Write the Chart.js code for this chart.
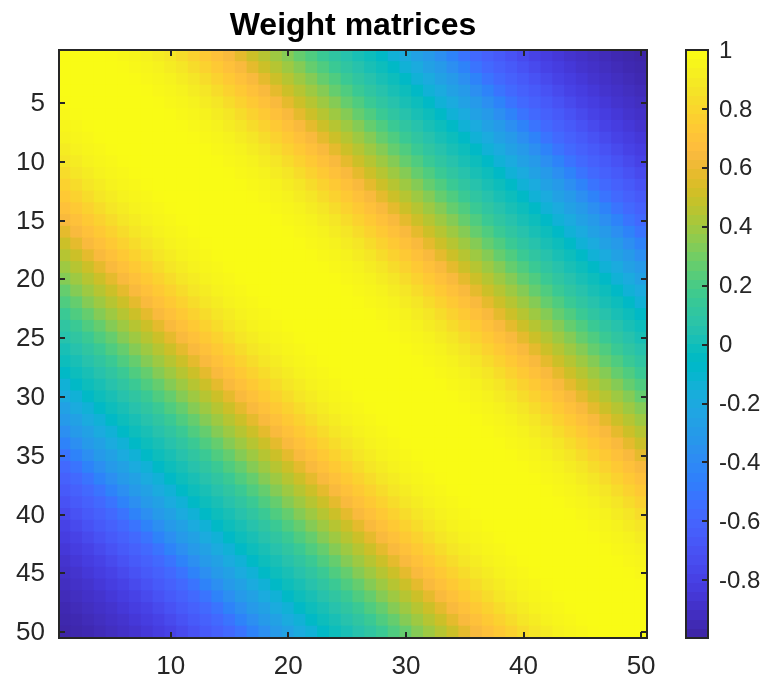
<!DOCTYPE html>
<html>
<head>
<meta charset="utf-8">
<style>
html,body{margin:0;padding:0;background:#fff;width:764px;height:679px;overflow:hidden}
#mainBox{position:absolute;left:0;top:0;width:706px;height:679px}
#barBox{position:absolute;left:650px;top:0;width:114px;height:679px}
canvas{display:block}
</style>
<script src="https://cdn.jsdelivr.net/npm/chart.js@4"></script>
</head>
<body>
<div id="mainBox"><canvas id="main" width="706" height="679"></canvas></div>
<div id="barBox"><canvas id="bar" width="114" height="679"></canvas></div>
<script>
const titleText = "Weight matrices";
const matrixSize = 50;
const xTicks = [10, 20, 30, 40, 50];
const yTicks = [5, 10, 15, 20, 25, 30, 35, 40, 45, 50];
const barTicks = [1, 0.8, 0.6, 0.4, 0.2, 0, -0.2, -0.4, -0.6, -0.8];
const colorMin = -0.996;
const colorMax = 1;
// value for each distance |row - column| from the diagonal
const offsetValues = [
  1, 1, 1, 1, 0.995, 0.98, 0.97, 0.95, 0.92, 0.89,
  0.84, 0.79, 0.745, 0.70, 0.655, 0.585, 0.51, 0.455, 0.40, 0.345,
  0.275, 0.22, 0.155, 0.105, 0.06, 0.02, -0.01, -0.06, -0.14, -0.19,
  -0.26, -0.31, -0.38, -0.45, -0.53, -0.585, -0.63, -0.67, -0.715, -0.76,
  -0.80, -0.83, -0.86, -0.89, -0.91, -0.93, -0.95, -0.97, -0.985, -0.996
];
const parula = [
[.2422,.1504,.6603],[.2504,.1650,.7076],[.2578,.1818,.7511],[.2647,.1978,.7952],[.2706,.2147,.8364],[.2751,.2342,.8710],[.2783,.2559,.8991],[.2803,.2782,.9221],
[.2813,.3006,.9414],[.2810,.3228,.9579],[.2795,.3447,.9717],[.2760,.3667,.9829],[.2699,.3892,.9906],[.2602,.4123,.9952],[.2440,.4358,.9988],[.2206,.4603,.9973],
[.1963,.4847,.9892],[.1834,.5074,.9798],[.1786,.5289,.9682],[.1764,.5499,.9520],[.1687,.5703,.9359],[.1540,.5902,.9218],[.1460,.6091,.9079],[.1380,.6276,.8973],
[.1248,.6459,.8883],[.1113,.6635,.8763],[.0952,.6798,.8598],[.0689,.6948,.8394],[.0297,.7082,.8163],[.0036,.7199,.7917],[.0067,.7300,.7660],[.0433,.7394,.7394],
[.0964,.7500,.7120],[.1408,.7584,.6842],[.1717,.7670,.6554],[.1938,.7758,.6251],[.2161,.7843,.5923],[.2470,.7918,.5567],[.2906,.7973,.5188],[.3406,.8008,.4789],
[.3909,.8029,.4354],[.4456,.8024,.3909],[.5044,.7993,.3480],[.5616,.7942,.3045],[.6174,.7876,.2612],[.6720,.7793,.2227],[.7242,.7698,.1910],[.7738,.7598,.1646],
[.8203,.7498,.1535],[.8634,.7406,.1596],[.9035,.7330,.1774],[.9393,.7288,.2100],[.9728,.7298,.2394],[.9956,.7434,.2371],[.9970,.7659,.2199],[.9952,.7893,.2028],
[.9892,.8136,.1885],[.9786,.8386,.1766],[.9676,.8639,.1643],[.9610,.8890,.1537],[.9597,.9135,.1423],[.9628,.9373,.1265],[.9691,.9606,.1064],[.9769,.9839,.0805]
];

const FONT = '"Liberation Sans", Arial, sans-serif';
const INK = '#262626';
const css = c => 'rgb(' + c.map(x => Math.round(x * 255)).join(',') + ')';
function colorOf(v) {
  const t = (v - colorMin) / (colorMax - colorMin) * (parula.length - 1);
  const i = Math.max(0, Math.min(parula.length - 2, Math.floor(t)));
  const f = t - i;
  return css(parula[i].map((c, k) => c + (parula[i + 1][k] - c) * f));
}

const cells = [];
for (let r = 1; r <= matrixSize; r++) {
  for (let c = 1; c <= matrixSize; c++) {
    cells.push({ x: c, y: r, v: offsetValues[Math.abs(r - c)] });
  }
}

const setTicks = list => scale => { scale.ticks = list.map(v => ({ value: v })); };
const sized = (w, h) => scale => {
  if (w !== null) scale.width = w;
  if (h !== null) scale.height = h;
};
const boxGrid = { drawOnChartArea: false, tickLength: -6, lineWidth: 2, tickColor: INK, z: 1 };
const boxBorder = { display: true, color: INK, width: 2, z: 1 };

function mainAxis(pos, list, fitW, fitH, labels, pad, shift) {
  return {
    type: 'linear', position: pos, min: 0.5, max: matrixSize + 0.5,
    reverse: pos === 'left' || pos === 'right',
    afterBuildTicks: setTicks(list),
    afterFit: sized(fitW, fitH),
    grid: boxGrid, border: boxBorder,
    ticks: { display: labels, autoSkip: false, maxRotation: 0, padding: pad, labelOffset: shift, color: INK,
             font: { family: FONT, size: 26 }, callback: v => String(v) }
  };
}

new Chart(document.getElementById('main'), {
  type: 'scatter',
  data: { datasets: [{
    data: cells,
    pointStyle: 'rect',
    borderWidth: 0,
    pointBorderWidth: 0,
    pointRadius: c => {
      const a = c.chart.chartArea;
      return a ? ((a.right - a.left) / matrixSize / 2 + 0.55) * Math.SQRT2 : 8;
    },
    pointBackgroundColor: c => c.raw ? colorOf(c.raw.v) : '#000',
    xAxisID: 'x', yAxisID: 'y'
  }] },
  options: {
    responsive: false, animation: false, events: [],
    layout: { padding: 0 },
    plugins: {
      legend: { display: false }, tooltip: { enabled: false },
      title: { display: true, text: titleText, color: '#000',
               font: { family: FONT, size: 32, weight: 'bold', lineHeight: 1.125 },
               padding: { top: 8, bottom: 6 } }
    },
    scales: {
      x: mainAxis('bottom', xTicks, null, 41, true, 19, 0),
      y: mainAxis('left', yTicks, 59, null, true, 20, 1),
      x2: mainAxis('top', xTicks, null, 0, false, 0, 0),
      y2: mainAxis('right', yTicks, 59, null, false, 0, 0)
    }
  }
});

new Chart(document.getElementById('bar'), {
  type: 'bar',
  data: { labels: [''], datasets: [{
    data: [[colorMin, colorMax]],
    barPercentage: 1, categoryPercentage: 1, borderWidth: 0,
    backgroundColor: c => {
      const a = c.chart.chartArea;
      if (!a) return '#000';
      const g = c.chart.ctx.createLinearGradient(0, a.bottom, 0, a.top);
      parula.forEach((col, i) => {
        g.addColorStop(i / parula.length, css(col));
        g.addColorStop((i + 1) / parula.length, css(col));
      });
      return g;
    },
    xAxisID: 'x', yAxisID: 'y'
  }] },
  options: {
    responsive: false, animation: false, events: [],
    layout: { padding: 0 },
    plugins: { legend: { display: false }, tooltip: { enabled: false }, title: { display: false } },
    scales: {
      x: { type: 'category', position: 'bottom', afterFit: sized(null, 41),
           grid: { display: false }, border: boxBorder, ticks: { display: false } },
      x2: { type: 'category', position: 'top', afterFit: sized(null, 50),
            grid: { display: false }, border: boxBorder, ticks: { display: false } },
      y2: { type: 'linear', position: 'left', min: colorMin, max: colorMax, afterFit: sized(36, null),
            grid: { display: false }, border: boxBorder, ticks: { display: false } },
      y: { type: 'linear', position: 'right', min: colorMin, max: colorMax,
           afterBuildTicks: setTicks(barTicks), afterFit: sized(56, null),
           grid: boxGrid, border: boxBorder,
           ticks: { autoSkip: false, padding: 17, labelOffset: 1, color: INK, font: { family: FONT, size: 24 }, callback: v => String(v) } }
    }
  }
});
</script>
</body>
</html>
